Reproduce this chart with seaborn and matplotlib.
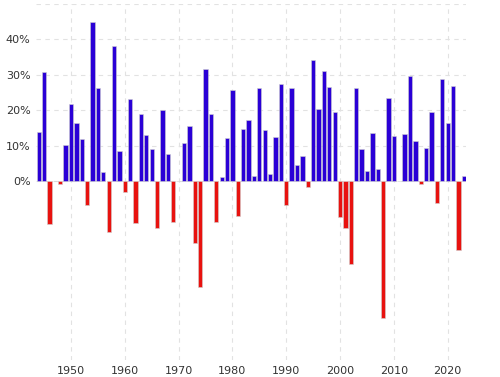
import numpy as np
import pandas as pd
import matplotlib
matplotlib.use("Agg")
import matplotlib.pyplot as plt
import seaborn as sns

years = list(range(1944, 2024))
returns = [
    13.8, 30.7, -11.9, 0.0, -0.7, 10.3, 21.8, 16.5, 11.8, -6.6,
    45.0, 26.4, 2.6, -14.3, 38.1, 8.5, -3.0, 23.1, -11.8, 18.9,
    13.0, 9.1, -13.1, 20.1, 7.7, -11.4, 0.1, 10.8, 15.6, -17.4,
    -29.7, 31.5, 19.1, -11.5, 1.1, 12.3, 25.8, -9.7, 14.8, 17.3,
    1.4, 26.3, 14.6, 2.0, 12.4, 27.3, -6.6, 26.3, 4.5, 7.1,
    -1.5, 34.1, 20.3, 31.0, 26.7, 19.5, -10.1, -13.0, -23.4, 26.4,
    9.0, 3.0, 13.6, 3.5, -38.5, 23.5, 12.8, 0.0, 13.4, 29.6,
    11.4, -0.7, 9.5, 19.4, -6.2, 28.9, 16.3, 26.9, -19.4, 1.4,
]
ytick_vals = [0, 10, 20, 30, 40, 50]
ytick_labels = ["0%", "10%", "20%", "30%", "40%", ""]
xtick_vals = [1950, 1960, 1970, 1980, 1990, 2000, 2010, 2020]

df = pd.DataFrame({"year": years, "ret": returns})
df["sign"] = np.where(df["ret"] >= 0, "up", "down")

sns.set_style("white")
fig = plt.figure(figsize=(5, 3.77), dpi=100)
ax = fig.add_axes([0.072, 0.045, 0.86, 0.945])

sns.barplot(
    data=df, x="year", y="ret", hue="sign",
    palette={"up": "#2a00d6", "down": "#e8120f"},
    native_scale=True, dodge=False, legend=False, saturation=1,
    edgecolor="#d0d0d0", linewidth=0.4, width=0.8, ax=ax,
)

ax.set_xlim(1943.5, 2023.4)
ax.set_ylim(-50.3, 50)
ax.set_yticks(ytick_vals)
ax.set_yticklabels(ytick_labels)
ax.set_xticks(xtick_vals)
ax.set_xticklabels([str(y) for y in xtick_vals])
ax.tick_params(length=0, labelsize=8, colors="#333333", pad=4)
ax.set_xlabel("")
ax.set_ylabel("")
for s in ax.spines.values():
    s.set_visible(False)

# dashed grid: vertical full height, horizontal only above zero
for x in xtick_vals:
    ax.axvline(x, color="#e2e2e2", linestyle=(0, (4, 4)), linewidth=0.8, zorder=0)
for y in ytick_vals:
    ax.axhline(y, color="#e2e2e2", linestyle=(0, (4, 4)), linewidth=0.8, zorder=0)

fig.savefig("out.png", dpi=100)
